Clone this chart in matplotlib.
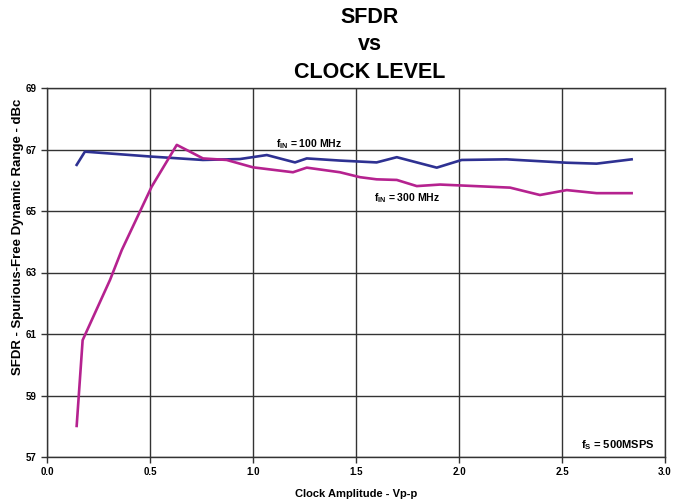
import matplotlib.pyplot as plt

plt.rcParams['font.family'] = ['Liberation Sans', 'DejaVu Sans']
plt.rcParams['font.weight'] = 'bold'
plt.rcParams['mathtext.fontset'] = 'custom'
plt.rcParams['mathtext.rm'] = 'Liberation Sans:bold'

# Clock amplitude (Vp-p) and SFDR (dBc)
x_100 = [0.144, 0.184, 0.505, 0.757, 0.937, 1.067, 1.204, 1.261, 1.422,
         1.60, 1.698, 1.892, 2.013, 2.231, 2.523, 2.668, 2.838]
sfdr_100 = [66.50, 66.93, 66.77, 66.66, 66.69, 66.82, 66.58, 66.71, 66.64,
            66.58, 66.75, 66.41, 66.66, 66.68, 66.57, 66.54, 66.68]

x_300 = [0.144, 0.173, 0.306, 0.363, 0.508, 0.630, 0.694, 0.757, 0.872,
         1.0, 1.194, 1.261, 1.422, 1.519, 1.60, 1.698, 1.795, 1.908,
         2.248, 2.393, 2.523, 2.668, 2.838]
sfdr_300 = [58.01, 60.80, 62.76, 63.73, 65.79, 67.15, 66.93, 66.71, 66.66,
            66.42, 66.26, 66.41, 66.26, 66.10, 66.03, 66.01, 65.81, 65.86,
            65.76, 65.52, 65.68, 65.58, 65.58]

x_ticks = [0.0, 0.5, 1.0, 1.5, 2.0, 2.5, 3.0]
y_ticks = [57, 59, 61, 63, 65, 67, 69]

fig = plt.figure(figsize=(6.73, 5.04), dpi=100)
ax = fig.add_axes([47 / 673, 1 - 457 / 504, 618 / 673, 369 / 504])

ax.plot(x_100, sfdr_100, color='#2E3192', lw=1.9, solid_joinstyle='round')
ax.plot(x_300, sfdr_300, color='#B5228F', lw=1.9, solid_joinstyle='round')

ax.set_xlim(0, 3.0)
ax.set_ylim(57, 69)
ax.set_xticks(x_ticks)
ax.set_xticklabels([f'{v:.1f}' for v in x_ticks])
ax.set_yticks(y_ticks)
ax.grid(True, color='#333333', lw=1.0)
for s in ax.spines.values():
    s.set_color('#333333')
    s.set_linewidth(1.0)
ax.tick_params(labelsize=7, color='#333333', length=4, width=1.0)
for lab in ax.get_xticklabels() + ax.get_yticklabels():
    lab.set_fontweight('bold')

ax.set_xlabel('Clock Amplitude - Vp-p', fontsize=8, fontweight='bold', labelpad=8)
ax.set_ylabel('SFDR - Spurious-Free Dynamic Range - dBc', fontsize=9.5,
              fontweight='bold')
ax.yaxis.set_label_coords(-0.037, 0.596)

ax.text(1.272, 67.18, r'f$_{\mathrm{IN}}$ = 100 MHz', fontsize=7.5,
        fontweight='bold', ha='center', va='center')
ax.text(1.75, 65.42, r'f$_{\mathrm{IN}}$ = 300 MHz', fontsize=7.5,
        fontweight='bold', ha='center', va='center')
ax.text(2.951, 57.39, r'f$_{\mathrm{S}}$ = 500MSPS', fontsize=8,
        fontweight='bold', ha='right', va='center')

fig.text(370 / 673, 1 - 45 / 504, 'SFDR\nvs\nCLOCK LEVEL', fontsize=15.5,
         fontweight='bold', ha='center', va='center', linespacing=1.4)

fig.savefig('out.png', dpi=100)
